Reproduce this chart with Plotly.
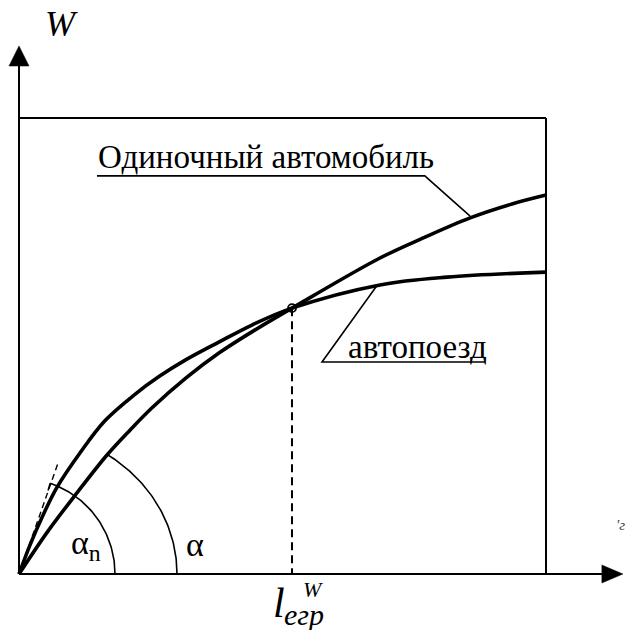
import numpy as np
import plotly.graph_objects as go

# Route length l (the frame spans 0..100) against output W (frame spans 0..100)
l_single = [0, 5.5, 10.8, 16.7, 21.1, 25.2, 31.7, 38.0, 44.2, 51.8, 68.5, 76.7, 85.6, 93.7, 100]
W_single = [0, 9.4, 17.5, 26.1, 31.6, 36.4, 43.0, 48.5, 53.1, 58.3, 69.3, 73.7, 78.1, 81.2, 83.1]

l_train = [0, 2.1, 4.4, 7.2, 11.6, 16.3, 22.0, 26.7, 31.7, 38.0, 44.2, 51.8, 68.5, 81.2, 100]
W_train = [0, 6.4, 12.5, 19.0, 26.6, 33.6, 39.4, 43.4, 47.0, 50.9, 54.6, 58.3, 63.4, 65.1, 66.2]

# equal-output distance where the two curves cross
l_egr = 51.8
W_egr = 58.3

label_single = "Одиночный автомобиль"
label_train = "автопоезд"

FONT = "Times New Roman"
INK = "black"

# scale: px per data unit, origin of the chart in px
SX, SY = 5.27, 4.56
OX, OY = 19, 574
W_PX, H_PX = 626, 630
x_range = [-OX / SX, (W_PX - OX) / SX]
y_range = [-(H_PX - OY) / SY, OY / SY]

fig = go.Figure()

# the two output curves
for xs, ys in [(l_single, W_single), (l_train, W_train)]:
    fig.add_trace(go.Scatter(x=xs, y=ys, mode="lines",
                             line=dict(color=INK, width=3.6, shape="spline", smoothing=1.0)))

# angle arcs at the origin
def arc(rx, ry, deg_to):
    t = np.radians(np.linspace(0, deg_to, 60))
    return (rx * np.cos(t)).tolist(), (ry * np.sin(t)).tolist()

ax_n, ay_n = arc(96 / SX, 96 / SY, 71)
ax_a, ay_a = arc(158 / SX, 144 / SY, 56)
for xs, ys in [(ax_n, ay_n), (ax_a, ay_a)]:
    fig.add_trace(go.Scatter(x=xs, y=ys, mode="lines", line=dict(color=INK, width=1.6)))
# small tick where the alpha_n arc meets the tangent
fig.add_trace(go.Scatter(x=[5.9, 5.5], y=[19.9, 18.3], mode="lines",
                         line=dict(color=INK, width=1.4)))

# tangent to the road-train curve at the origin
fig.add_trace(go.Scatter(x=[0, 7.4], y=[0, 24.3], mode="lines",
                         line=dict(color=INK, width=1.4, dash="6px,4px")))

# vertical drop from the crossing point
fig.add_trace(go.Scatter(x=[l_egr, l_egr], y=[W_egr, 0], mode="lines",
                         line=dict(color=INK, width=2, dash="8px,5px")))
fig.add_trace(go.Scatter(x=[l_egr], y=[W_egr], mode="markers",
                         marker=dict(size=8, color="rgba(0,0,0,0)", line=dict(color=INK, width=1.8))))

# frame
fig.add_shape(type="line", x0=0, y0=100, x1=100, y1=100, line=dict(color=INK, width=2))
fig.add_shape(type="line", x0=100, y0=100, x1=100, y1=0, line=dict(color=INK, width=2))
# axes
fig.add_shape(type="line", x0=0, y0=0, x1=0, y1=111.5, line=dict(color=INK, width=2))
fig.add_shape(type="line", x0=0, y0=0, x1=110.7, y1=0, line=dict(color=INK, width=2))
# arrow heads
fig.add_shape(type="path", path="M -1.9,111.4 L 1.9,111.4 L 0,115.8 Z",
              fillcolor=INK, line=dict(color=INK, width=0.5))
fig.add_shape(type="path", path="M 110.6,-1.97 L 110.6,1.97 L 114.6,0 Z",
              fillcolor=INK, line=dict(color=INK, width=0.5))
# leader lines for the curve labels
fig.add_shape(type="path", path="M 14.8,87.3 L 77.0,87.3 L 85.6,78.5",
              line=dict(color=INK, width=1.6))
fig.add_shape(type="path", path="M 88.4,46.5 L 57.5,46.5 L 67.9,63.2",
              line=dict(color=INK, width=1.6))


def label(x, y, text, size, xanchor="left", color=INK):
    fig.add_annotation(x=x, y=y, xref="x", yref="y", text=text, showarrow=False,
                       xanchor=xanchor, yanchor="middle",
                       font=dict(family=FONT, size=size, color=color))


label(14.6, 91.4, label_single, 33)
label(62.0, 49.8, label_train, 33)
label(9.5, 6.4, "α<sub>n</sub>", 34)
label(31.4, 6.4, "α", 34)
label(4.6, 120.6, "<i>W</i>", 36)
label(49.4, -6.4, "<i>l</i>", 42, "center")
label(55.8, -3.5, "<i>W</i>", 22, "center")
label(54.0, -8.8, "<i>егр</i>", 30, "center")
label(114.2, 10.8, "<i>'г</i>", 15, "center", "#444")

fig.update_layout(
    width=W_PX, height=H_PX,
    margin=dict(l=0, r=0, t=0, b=0),
    paper_bgcolor="white", plot_bgcolor="white",
    showlegend=False,
    hovermode=False,
    xaxis=dict(range=x_range, visible=False),
    yaxis=dict(range=y_range, visible=False),
)

fig.write_html("out.html")
